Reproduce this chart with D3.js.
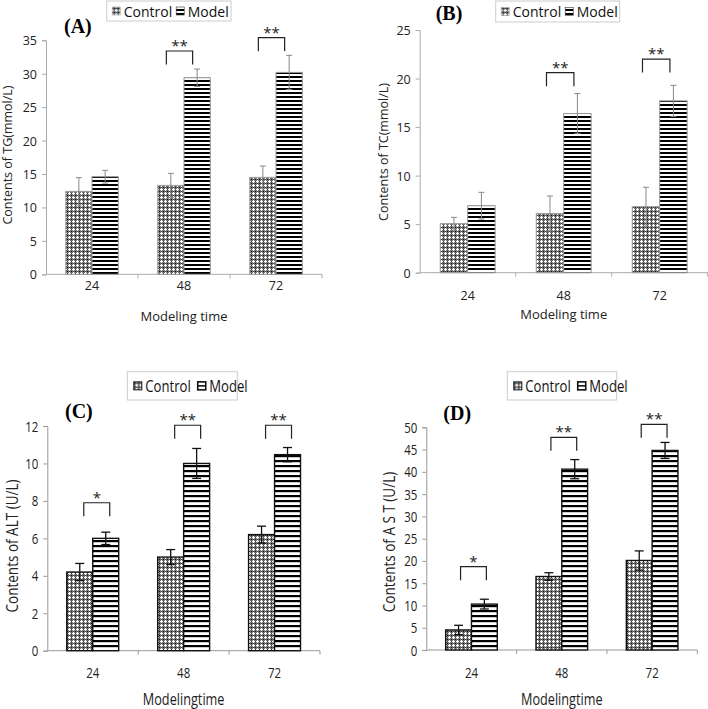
<!DOCTYPE html>
<html>
<head>
<meta charset="utf-8">
<script src="https://cdn.jsdelivr.net/npm/d3@7"></script>
<style>
  body { margin: 0; background: #fff; }
  svg { display: block; }
</style>
</head>
<body>
<svg id="chart" width="708" height="709"></svg>
<script>
// values
const categories = ["24", "48", "72"];
const seriesNames = ["Control", "Model"];

const tgControl = [12.4, 13.3, 14.5];
const tgControlErr = [2.05, 1.8, 1.7];
const tgModel = [14.6, 29.4, 30.2];
const tgModelErr = [0.95, 1.3, 2.55];
const tgSig = ["", "**", "**"];
const tgSigY = [null, 33.4, 35.4];

const tcControl = [5.05, 6.1, 6.8];
const tcControlErr = [0.65, 1.8, 2.0];
const tcModel = [6.9, 16.4, 17.7];
const tcModelErr = [1.38, 2.05, 1.6];
const tcSig = ["", "**", "**"];
const tcSigY = [null, 20.6, 22.0];

const altControl = [4.2, 5.0, 6.2];
const altControlErr = [0.46, 0.4, 0.45];
const altModel = [6.0, 10.0, 10.47];
const altModelErr = [0.33, 0.8, 0.38];
const altSig = ["*", "**", "**"];
const altSigY = [7.9, 12.04, 12.04];

const astControl = [4.5, 16.5, 20.1];
const astControlErr = [1.05, 0.85, 2.15];
const astModel = [10.3, 40.6, 44.8];
const astModelErr = [1.1, 2.15, 1.8];
const astSig = ["*", "**", "**"];
const astSigY = [18.7, 47.75, 50.67];

var svg = d3.select("#chart");
var defs = svg.append("defs");
var FONT = "'Open Sans', sans-serif";

// hatch patterns
function px(p, x, y, c) {
    p.append("rect").attr("x", x).attr("y", y).attr("width", 1).attr("height", 1).attr("fill", c);
}
function makeCheck(id) {
    var p = defs.append("pattern").attr("id", id)
        .attr("patternUnits", "userSpaceOnUse").attr("width", 4).attr("height", 4);
    p.append("rect").attr("width", 4).attr("height", 4).attr("fill", "#767676");
    px(p, 1, 0, "#fff"); px(p, 0, 1, "#fff"); px(p, 1, 1, "#fff"); px(p, 2, 1, "#fff"); px(p, 1, 2, "#fff");
    px(p, 3, 3, "#111"); px(p, 3, 1, "#3a3a3a"); px(p, 1, 3, "#3a3a3a");
}
function makeStripe(id, period, dark) {
    var p = defs.append("pattern").attr("id", id)
        .attr("patternUnits", "userSpaceOnUse").attr("width", 8).attr("height", period);
    p.append("rect").attr("width", 8).attr("height", period).attr("fill", "#fff");
    p.append("rect").attr("y", 0).attr("width", 8).attr("height", dark).attr("fill", "#000");
}
makeCheck("check");
makeStripe("stripeAB", 4, 2);
makeStripe("stripeCD", 5, 2.2);

var panels = [
    { label: "(A)", ylab: "Contents of TG(mmol/L)", xlab: "Modeling time",
      control: tgControl, controlErr: tgControlErr, model: tgModel, modelErr: tgModelErr,
      sig: tgSig, sigY: tgSigY, max: 35, step: 5,
      x0: 46, x1: 322, yTop: 40.3, yZero: 274.3, style: "ab", brOff: -4.5,
      titleX: 64, titleY: 33, legend: [106.7, 1, 124.3, 20],
      ylabX: 9, ylabY: 155, xtickY: 290, xlabY: 321, sx: 1 },
    { label: "(B)", ylab: "Contents of TC(mmol/L)", xlab: "Modeling time",
      control: tcControl, controlErr: tcControlErr, model: tcModel, modelErr: tcModelErr,
      sig: tcSig, sigY: tcSigY, max: 25, step: 5,
      x0: 419.7, x1: 707.7, yTop: 30, yZero: 272.7, style: "ab", brOff: -3.5,
      titleX: 435.7, titleY: 20, legend: [495.7, 1, 124, 21],
      ylabX: 385, ylabY: 152, xtickY: 300, xlabY: 319, sx: 1 },
    { label: "(C)", ylab: "Contents of ALT (U/L)", xlab: "Modelingtime",
      control: altControl, controlErr: altControlErr, model: altModel, modelErr: altModelErr,
      sig: altSig, sigY: altSigY, max: 12, step: 2,
      x0: 47.3, x1: 320, yTop: 426, yZero: 650.7, style: "cd", brOff: 4,
      titleX: 65, titleY: 418, legend: [127.3, 371.7, 110, 28.3],
      ylabX: 14, ylabY: 546, xtickY: 678, xlabY: 705, sx: 0.82 },
    { label: "(D)", ylab: "Contents of A S T (U/L)", xlab: "Modelingtime",
      control: astControl, controlErr: astControlErr, model: astModel, modelErr: astModelErr,
      sig: astSig, sigY: astSigY, max: 50, step: 5,
      x0: 426.3, x1: 697.3, yTop: 427.3, yZero: 650, style: "cd", brOff: 2,
      titleX: 443.3, titleY: 420, legend: [507.3, 371.7, 109.4, 28.3],
      ylabX: 391, ylabY: 542, xtickY: 678, xlabY: 705, sx: 0.82 }
];

// text that may be squeezed horizontally (panels C, D use a narrow face)
function txt(parent, x, y, str, size, sx, anchor, rot) {
    var tr = "translate(" + x + "," + y + ")" + (rot ? " rotate(-90)" : "") + " scale(" + sx + ",1)";
    return parent.append("text").attr("transform", tr)
        .attr("text-anchor", anchor || "start")
        .attr("font-family", FONT).attr("font-size", size).attr("fill", "#222").text(str);
}

function drawPanel(cfg) {
    var g = svg.append("g");
    var isAB = cfg.style == "ab";
    var axisColor = isAB ? "#aaa" : "#999";
    var tickFs = isAB ? 12.5 : 14;

    var y = d3.scaleLinear().domain([0, cfg.max]).range([cfg.yZero, cfg.yTop]);
    var x = d3.scaleBand().domain(categories).range([cfg.x0, cfg.x1]).padding(0);
    var xs = d3.scaleBand().domain(seriesNames).range([0, x.bandwidth()])
        .paddingInner(0).paddingOuter(0.75);

    // y axis
    var yAxis = d3.axisLeft(y).tickValues(d3.range(0, cfg.max + 0.001, cfg.step))
        .tickSize(4).tickPadding(5);
    var ya = g.append("g").attr("transform", "translate(" + cfg.x0 + ",0)").call(yAxis);
    ya.select(".domain").attr("stroke", axisColor);
    ya.selectAll(".tick line").attr("stroke", axisColor);
    ya.selectAll(".tick text")
        .attr("x", null).attr("dy", "0.36em")
        .attr("transform", "translate(-9,0) scale(" + cfg.sx + ",1)")
        .attr("font-family", FONT).attr("font-size", tickFs).attr("fill", "#222");

    // x axis line with ticks between groups
    g.append("line").attr("x1", cfg.x0).attr("x2", cfg.x1)
        .attr("y1", cfg.yZero).attr("y2", cfg.yZero).attr("stroke", axisColor);
    g.selectAll(".xt").data(categories).enter().append("line")
        .attr("x1", d => x(d) + x.bandwidth()).attr("x2", d => x(d) + x.bandwidth())
        .attr("y1", cfg.yZero).attr("y2", cfg.yZero + 4).attr("stroke", axisColor);
    categories.forEach(function (c) {
        txt(g, x(c) + x.bandwidth() / 2, cfg.xtickY, c, tickFs, cfg.sx, "middle");
    });

    // bars
    var rows = [];
    categories.forEach(function (c, i) {
        rows.push({ cat: c, s: "Control", v: cfg.control[i], e: cfg.controlErr[i] });
        rows.push({ cat: c, s: "Model", v: cfg.model[i], e: cfg.modelErr[i] });
    });
    g.selectAll(".bar").data(rows).enter().append("rect")
        .attr("x", d => x(d.cat) + xs(d.s))
        .attr("y", d => y(d.v))
        .attr("width", xs.bandwidth())
        .attr("height", d => cfg.yZero - y(d.v))
        .attr("fill", d => d.s == "Control" ? "url(#check)" : (isAB ? "url(#stripeAB)" : "url(#stripeCD)"))
        .attr("stroke", isAB ? "#999" : "#111")
        .attr("stroke-width", isAB ? 1 : 1.4);

    // error bars
    var errColor = isAB ? "#888" : "#111";
    var capW = isAB ? 3 : 4.5;
    var cx = d => x(d.cat) + xs(d.s) + xs.bandwidth() / 2;
    var eb = g.selectAll(".err").data(rows).enter().append("g");
    eb.append("line")
        .attr("x1", cx).attr("x2", cx)
        .attr("y1", d => y(d.v - d.e)).attr("y2", d => y(d.v + d.e))
        .attr("stroke", errColor).attr("stroke-width", isAB ? 1 : 1.3);
    [1, -1].forEach(function (sgn) {
        eb.append("line")
            .attr("x1", d => cx(d) - capW).attr("x2", d => cx(d) + capW)
            .attr("y1", d => y(d.v + sgn * d.e)).attr("y2", d => y(d.v + sgn * d.e))
            .attr("stroke", errColor).attr("stroke-width", isAB ? 1 : 1.3);
    });

    // significance brackets
    categories.forEach(function (c, i) {
        if (!cfg.sig[i]) return;
        var xl = x(c) + xs("Control") + xs.bandwidth() / 2 + cfg.brOff;
        var xr = x(c) + xs("Model") + xs.bandwidth() / 2 + cfg.brOff;
        var yt = y(cfg.sigY[i]);
        g.append("path")
            .attr("d", "M" + xl + "," + (yt + 13.5) + "V" + yt + "H" + xr + "V" + (yt + 13.5))
            .attr("fill", "none").attr("stroke", "#222").attr("stroke-width", 1.2);
        txt(g, (xl + xr) / 2, yt, cfg.sig[i], 15, 1, "middle");
    });

    // panel title
    g.append("text").attr("x", cfg.titleX).attr("y", cfg.titleY)
        .attr("font-family", "'Liberation Serif', serif").attr("font-weight", "bold")
        .attr("font-size", 20).text(cfg.label);

    // axis labels
    txt(g, cfg.ylabX, cfg.ylabY, cfg.ylab, isAB ? 12.5 : 16.5, cfg.sx, "middle", true)
        .attr("dominant-baseline", "middle");
    txt(g, (cfg.x0 + cfg.x1) / 2, cfg.xlabY, cfg.xlab, isAB ? 13 : 15.5, cfg.sx, "middle");

    // legend
    var L = cfg.legend;
    var lg = g.append("g").attr("transform", "translate(" + L[0] + "," + L[1] + ")");
    lg.append("rect").attr("width", L[2]).attr("height", L[3])
        .attr("fill", "#fff").attr("stroke", "#ccc");
    var my = L[3] / 2;
    var fs = isAB ? 14 : 16;
    var sw = isAB ? 5.5 : 6.5;
    lg.append("rect").attr("x", sw).attr("y", my - 4).attr("width", 8).attr("height", 8)
        .attr("fill", "url(#check)").attr("stroke", isAB ? "#999" : "#111").attr("stroke-width", isAB ? 0.6 : 1);
    var t1 = txt(lg, sw + 11.5, my, "Control", fs, cfg.sx, "start").attr("dominant-baseline", "central")
        .attr("fill", "#111");
    var w1 = t1.node().getComputedTextLength() * cfg.sx;
    var mx = sw + 11.5 + w1 + (isAB ? 4 : 7);
    if (isAB) {
        lg.append("rect").attr("x", mx).attr("y", my - 4).attr("width", 8).attr("height", 8)
            .attr("fill", "url(#stripeAB)").attr("stroke", "#333").attr("stroke-width", 0.6);
    } else {
        lg.append("rect").attr("x", mx).attr("y", my - 4).attr("width", 8).attr("height", 8)
            .attr("fill", "#fff").attr("stroke", "#111").attr("stroke-width", 1.6);
        lg.append("line").attr("x1", mx).attr("x2", mx + 8)
            .attr("y1", my).attr("y2", my).attr("stroke", "#111").attr("stroke-width", 1.6);
    }
    txt(lg, mx + 11.5, my, "Model", fs, cfg.sx, "start").attr("dominant-baseline", "central")
        .attr("fill", "#111");
}

panels.forEach(drawPanel);
</script>
</body>
</html>
